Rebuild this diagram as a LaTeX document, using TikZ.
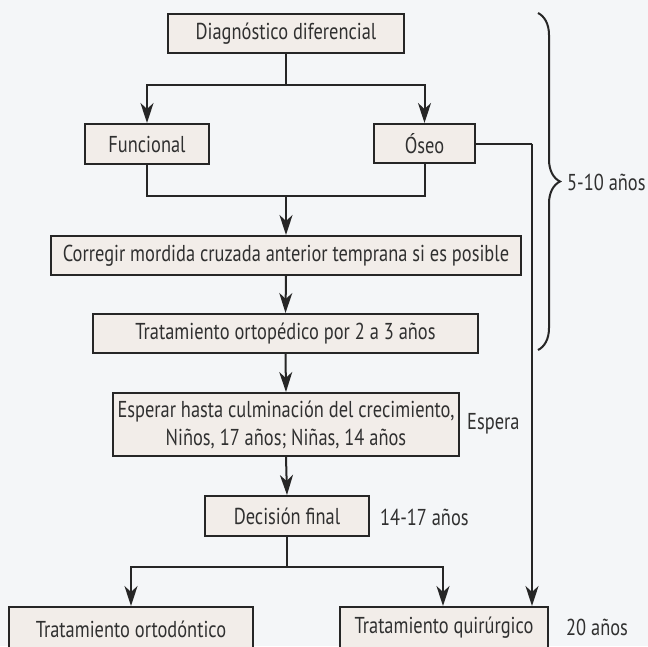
\documentclass[tikz,border=0pt]{standalone}
\usepackage{fontspec}
\setmainfont{PT Sans}[FakeStretch=0.80]
\usetikzlibrary{arrows.meta,decorations.pathreplacing}
\definecolor{bgcol}{HTML}{F4F6F8}
\definecolor{boxfill}{HTML}{F2EDE9}
\definecolor{ink}{HTML}{262626}
\definecolor{txt}{HTML}{303030}
\begin{document}
\begin{tikzpicture}[x=1pt,y=-1pt,
  font=\fontsize{23}{28}\selectfont,
  flowbox/.style={draw=ink,fill=boxfill,line width=2pt,inner sep=0pt,text=txt,align=center},
  conn/.style={draw=ink,line width=2pt},
  arr/.style={conn,-{Stealth[length=20pt,width=13pt,inset=6pt]}},
  lbl/.style={text=txt,anchor=west,inner sep=0pt}]
\fill[bgcol] (0,0) rectangle (648,646);
\useasboundingbox (0,0) rectangle (648,646);

\node[flowbox,minimum width=236pt,minimum height=39pt] (diag) at (286,33.5) {Diagnóstico diferencial};
\node[flowbox,minimum width=124pt,minimum height=40pt] (func) at (147,144) {Funcional};
\node[flowbox,minimum width=101pt,minimum height=39pt] (oseo) at (424.5,143.5) {Óseo};
\node[flowbox,minimum width=470pt,minimum height=39pt] (corr) at (286,255.5) {Corregir mordida cruzada anterior temprana si es posible};
\node[flowbox,minimum width=385pt,minimum height=39pt] (orto) at (285.5,333.5) {Tratamiento ortopédico por 2 a 3 años};
\node[flowbox,minimum width=346pt,minimum height=63pt] (esp) at (286,424.5) {Esperar hasta culminación del crecimiento,\\ Niños, 17 años; Niñas, 14 años};
\node[flowbox,minimum width=164pt,minimum height=40pt] (dec) at (287,516) {Decisión final};
\node[flowbox,minimum width=244pt,minimum height=44pt] (ortod) at (131,629) {Tratamiento ortodóntico};
\node[flowbox,minimum width=208pt,minimum height=42pt] (quir) at (444,628) {Tratamiento quirúrgico};

\coordinate (s1) at (286,84.5);
\coordinate (j1) at (286,195.5);
\coordinate (s2) at (287,567);
\coordinate (r1) at (532,143.5);

\draw[conn] (diag.south) -- (s1);
\draw[arr] (s1) -| (func.north);
\draw[arr] (s1) -| (oseo.north);
\draw[conn] (func.south) |- (j1);
\draw[conn] (oseo.south) |- (j1);
\draw[arr] (j1) -- (corr.north);
\draw[arr] (corr.south) -- (orto.north);
\draw[arr] (orto.south) -- (esp.north);
\draw[arr] (esp.south) -- (dec.north);
\draw[conn] (dec.south) -- (s2);
\draw[arr] (s2) -| (ortod.north);
\draw[arr] (s2) -| (quir.north -| 443,0);
\draw[conn] (oseo.east) -- (r1);
\draw[arr] (r1) -- (r1 |- quir.north);

\draw[conn,decorate,decoration={brace,amplitude=22pt,aspect=0.5}] (538,13) -- (538,350);
\node[lbl] (t510) at (567,182) {5-10 años};
\node[lbl] (tesp) at (467,424) {Espera};
\node[lbl] (t1417) at (380,517) {14-17 años};
\node[lbl] (t20) at (566,627) {20 años};
\end{tikzpicture}
\end{document}
